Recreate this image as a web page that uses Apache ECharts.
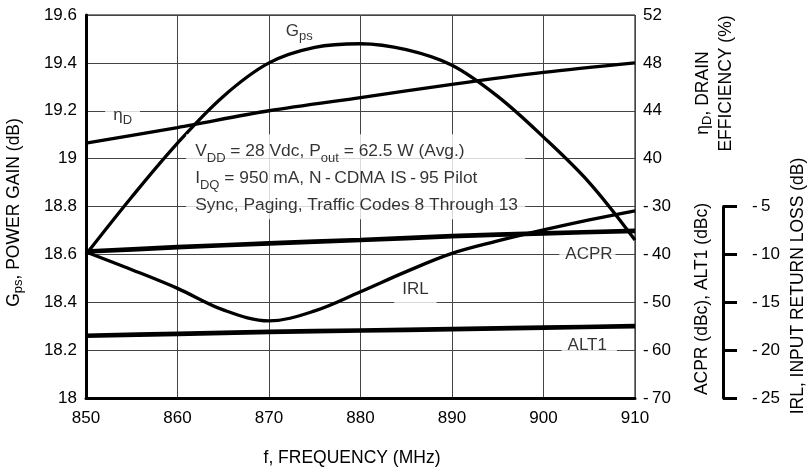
<!DOCTYPE html>
<html><head><meta charset="utf-8">
<script src="https://cdn.jsdelivr.net/npm/echarts@6/dist/echarts.min.js"></script>
<style>html,body{margin:0;padding:0;background:#fff}#c{width:809px;height:473px}</style>
</head><body><div id="c"></div>
<script>
// ---- data ----
const freq = [850, 855, 860, 865, 870, 875, 880, 885, 890, 895, 900, 905, 910];
const gps  = [18.60, 18.84, 19.065, 19.26, 19.40, 19.465, 19.48, 19.455, 19.39, 19.26, 19.09, 18.90, 18.66];
const irl  = [-9.75, -11.6, -13.55, -15.8, -16.95, -15.9, -13.9, -11.8, -9.9, -8.6, -7.45, -6.4, -5.45];
const freq10 = [850, 860, 870, 880, 890, 900, 910];
const eff  = [41.3, 42.6, 44.0, 45.1, 46.2, 47.2, 48.0];
const acpr = [-39.4, -38.5, -37.7, -37.0, -36.2, -35.6, -35.1];
const alt1 = [-57.0, -56.6, -56.2, -55.9, -55.6, -55.3, -55.0];
const gainTicks = [18, 18.2, 18.4, 18.6, 18.8, 19, 19.2, 19.4, 19.6];
const effTicks = [40, 44, 48, 52];
const acprTicks = [-70, -60, -50, -40, -30];
const irlTicks = [-25, -20, -15, -10, -5];

const FONT = '"Liberation Sans", Arial, Helvetica, sans-serif';
const pair = (xs, ys) => xs.map((x, i) => [x, ys[i]]);
const neg = v => v < 0 ? '-\u2009' + Math.abs(v) : String(v);

const richL = {
  m: {fontSize: 17, fontFamily: FONT, color: '#000', lineHeight: 22},
  s: {fontSize: 13, fontFamily: FONT, color: '#000', lineHeight: 10, verticalAlign: 'bottom'}
};
const richBlock = {
  m: {fontSize: 17.4, fontFamily: FONT, color: '#000', lineHeight: 27},
  s: {fontSize: 13, fontFamily: FONT, color: '#000', lineHeight: 15, verticalAlign: 'bottom'}
};
const richG = {
  m: {fontSize: 17.5, fontFamily: FONT, fill: '#000', lineHeight: 22},
  s: {fontSize: 13, fontFamily: FONT, fill: '#000', lineHeight: 10, verticalAlign: 'bottom'}
};
function gtext(x, y, rot, text) {
  return {type: 'text', x: x, y: y, rotation: rot, silent: true, z: 100,
    style: {text: text, rich: richG, align: 'center', verticalAlign: 'middle', fill: '#000',
      fontSize: 17.5, fontFamily: FONT}};
}

const GRID = '#444';
const lbl = {fontSize: 17, fontFamily: FONT, color: '#000'};

function labelSeries(yAxisIndex, pt, label) {
  return {type: 'scatter', xAxisIndex: 0, yAxisIndex: yAxisIndex, symbolSize: 1, silent: true, z: 6,
    itemStyle: {color: 'rgba(0,0,0,0)'}, data: [pt],
    label: Object.assign({show: true, fontFamily: FONT, fontSize: 17, color: '#000'}, label)};
}

const option = {
  animation: false,
  backgroundColor: '#fff',
  textStyle: {fontFamily: FONT, color: '#000'},
  grid: [
    {left: 86, right: 174, top: 15, bottom: 75, show: true, borderColor: '#000', borderWidth: 1, backgroundColor: 'transparent'},
    {left: 86, right: 174, top: 206.5, bottom: 75}
  ],
  xAxis: [
    {gridIndex: 0, type: 'value', min: 850, max: 910, interval: 10,
      axisLine: {onZero: false, lineStyle: {color: '#000', width: 3}}, axisTick: {show: false},
      axisLabel: Object.assign({margin: 12}, lbl),
      splitLine: {show: true, lineStyle: {color: GRID, width: 1}}},
    {gridIndex: 1, type: 'value', min: 850, max: 910, show: false, axisLine: {onZero: false}}
  ],
  yAxis: [
    {gridIndex: 0, type: 'value', position: 'left', min: 18, max: 19.6, interval: 0.2,
      axisLine: {show: true, onZero: false, lineStyle: {color: '#000', width: 3}}, axisTick: {show: false},
      axisLabel: Object.assign({margin: 9, formatter: v => {
        const t = gainTicks.find(g => Math.abs(g - v) < 1e-6); return t === undefined ? '' : String(t);
      }}, lbl),
      splitLine: {show: true, lineStyle: {color: GRID, width: 1}}},
    {gridIndex: 0, type: 'value', position: 'right', min: 20, max: 52, interval: 4,
      axisLine: {show: false, onZero: false}, axisTick: {show: false}, splitLine: {show: false},
      axisLabel: Object.assign({margin: 8, formatter: v => effTicks.indexOf(v) >= 0 ? String(v) : ''}, lbl)},
    {gridIndex: 0, type: 'value', position: 'right', min: -70, max: 10, interval: 10,
      axisLine: {show: false, onZero: false}, axisTick: {show: false}, splitLine: {show: false},
      axisLabel: Object.assign({margin: 8, formatter: v => acprTicks.indexOf(v) >= 0 ? neg(v) : ''}, lbl)},
    {gridIndex: 1, type: 'value', position: 'right', offset: 88, min: -25, max: -5, interval: 5,
      axisLine: {show: true, onZero: false, lineStyle: {color: '#000', width: 3}},
      axisTick: {show: true, inside: false, length: 14, lineStyle: {color: '#000', width: 3}},
      splitLine: {show: false},
      axisLabel: Object.assign({margin: 29, formatter: v => irlTicks.indexOf(v) >= 0 ? neg(v) : ''}, lbl)}
  ],
  series: [
    {name: 'Gps', type: 'line', xAxisIndex: 0, yAxisIndex: 0, data: pair(freq, gps), smooth: 0.35,
      showSymbol: false, lineStyle: {color: '#000', width: 3.3}, z: 3},
    {name: 'ηD', type: 'line', xAxisIndex: 0, yAxisIndex: 1, data: pair(freq10, eff), smooth: 0.3,
      showSymbol: false, lineStyle: {color: '#000', width: 3.3}, z: 3},
    {name: 'ACPR', type: 'line', xAxisIndex: 0, yAxisIndex: 2, data: pair(freq10, acpr), smooth: 0.3,
      showSymbol: false, lineStyle: {color: '#000', width: 4.7}, z: 3},
    {name: 'ALT1', type: 'line', xAxisIndex: 0, yAxisIndex: 2, data: pair(freq10, alt1), smooth: 0.3,
      showSymbol: false, lineStyle: {color: '#000', width: 4.7}, z: 3},
    {name: 'IRL', type: 'line', xAxisIndex: 1, yAxisIndex: 3, data: pair(freq, irl), smooth: 0.35,
      showSymbol: false, lineStyle: {color: '#000', width: 3.3}, z: 3},
    labelSeries(0, [873.3, 19.53], {position: 'inside', formatter: '{m|G}{s|ps}', rich: richL}),
    labelSeries(0, [854.0, 19.2], {position: 'inside', offset: [0, 5], formatter: '{m|η}{s|D}', rich: richL,
      backgroundColor: '#fff', padding: [0, 8, 0, 8]}),
    labelSeries(0, [861.0, 19.1], {position: [0, 0], align: 'left', verticalAlign: 'top',
      backgroundColor: '#fff', padding: [4, 8, 0, 9], width: 322, rich: richBlock,
      formatter: '{m|V}{s|DD}{m| = 28 Vdc, P}{s|out}{m| = 62.5 W (Avg.)}\n{m|I}{s|DQ}{m| = 950 mA, N\u2009-\u2009CDMA IS\u2009-\u200995 Pilot}\n{m|Sync, Paging, Traffic Codes 8 Through 13}'}),
    labelSeries(0, [886.0, 18.4], {position: 'top', distance: -3, formatter: '{m|IRL}', rich: richL,
      backgroundColor: '#fff', padding: [0, 8, 4, 8]}),
    labelSeries(2, [904.8, -40], {position: 'inside', formatter: '{m|ACPR}', rich: richL,
      backgroundColor: '#fff', padding: [0, 3, 0, 6]}),
    labelSeries(2, [905.0, -60], {position: 'inside', offset: [0, -5], formatter: '{m|ALT1}', rich: richL,
      backgroundColor: '#fff', padding: [0, 10, 0, 6]})
  ],
  graphic: [
    gtext(14, 212.5, Math.PI / 2, '{m|G}{s|ps}{m|, POWER GAIN (dB)}'),
    gtext(703, 93, Math.PI / 2, '{m|η}{s|D}{m|, DRAIN}'),
    gtext(726, 83.5, Math.PI / 2, '{m|EFFICIENCY (%)}'),
    gtext(702, 299, Math.PI / 2, '{m|ACPR (dBc), ALT1 (dBc)}'),
    gtext(798, 286, Math.PI / 2, '{m|IRL, INPUT RETURN LOSS (dB)}'),
    gtext(352, 458, 0, '{m|f, FREQUENCY (MHz)}')
  ]
};
const chart = echarts.init(document.getElementById('c'));
chart.setOption(option);
</script></body></html>
